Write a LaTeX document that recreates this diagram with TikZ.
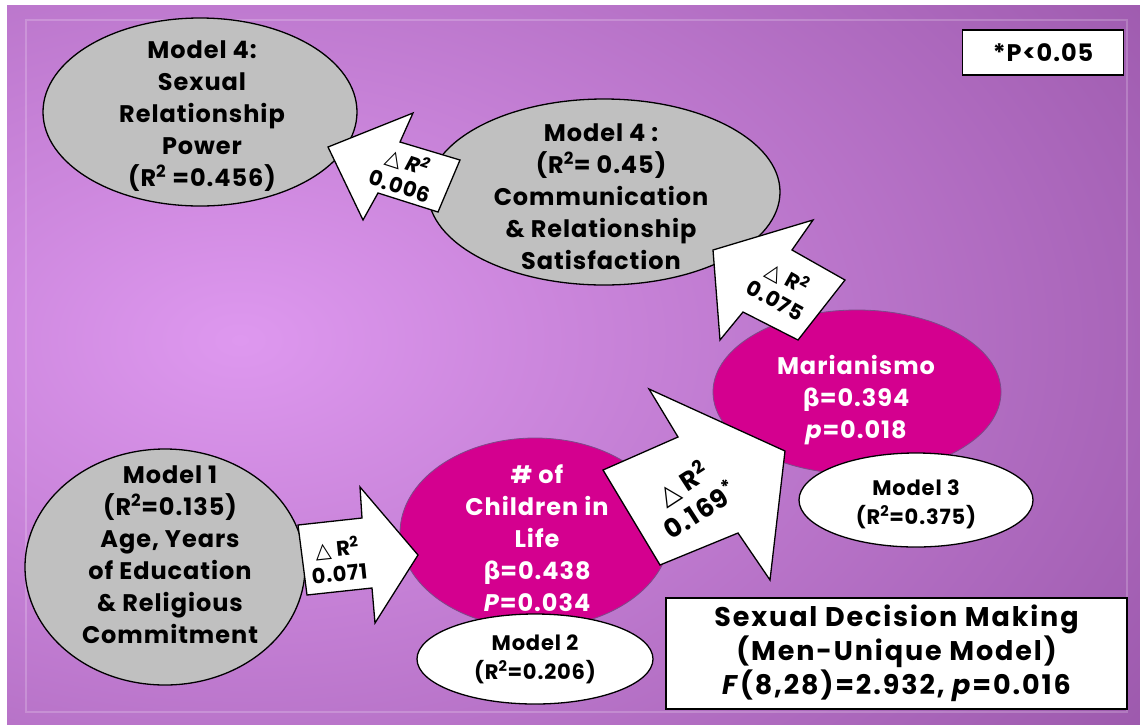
\documentclass[tikz,border=0pt]{standalone}
\usepackage{fontspec}
\setmainfont{Poppins}[LetterSpace=4]
\newfontfamily\symf{DejaVu Sans}
\usetikzlibrary{shapes.geometric}
\definecolor{bglight}{HTML}{DE98EF}
\definecolor{bgdark}{HTML}{9350A3}
\definecolor{grayc}{HTML}{C0C0C0}
\definecolor{magc}{HTML}{D4008F}
\definecolor{magborder}{HTML}{7D4A8A}
\newcommand{\dtri}{{\symf\bfseries △}}
\newcommand{\bet}{{\symf\bfseries β}}
\newcommand{\Rsq}{R\textsuperscript{2}}
\tikzset{
  grayell/.style={ellipse, draw=black, line width=1.3pt, fill=grayc, inner sep=0pt},
  magell/.style={ellipse, draw=magborder, line width=0.8pt, fill=magc, inner sep=0pt},
  whiteell/.style={ellipse, draw=black, line width=1.3pt, fill=white, inner sep=0pt},
  bigtxt/.style={align=center, inner sep=0pt, font=\bfseries\fontsize{24}{32}\selectfont},
  smalltxt/.style={align=center, inner sep=0pt, font=\bfseries\fontsize{21}{29}\selectfont},
  arrtxt/.style={align=center, inner sep=0pt, font=\bfseries\fontsize{21}{25}\selectfont},
  blockarrow/.style={draw=black, line width=1.3pt, fill=white, line join=miter},
  whitebox/.style={draw=black, line width=1.3pt, fill=white, inner sep=0pt, align=center}
}
\begin{document}
\begin{tikzpicture}[x=1pt,y=-1pt]
\useasboundingbox (0,0) rectangle (1140,724);
% background
\fill[white] (0,0) rectangle (1140,724);
\begin{scope}
  \clip (7,5) rectangle (1140,724);
  \fill[bgdark] (0,0) rectangle (1140,724);
  \shade[inner color=bglight, outer color=bgdark] (240,340) ellipse (1250 and 800);
\end{scope}
\draw[white, opacity=0.2, line width=1.5pt] (26,20) rectangle (1127,712);

% main ellipses
\node[grayell, minimum width=314pt, minimum height=188pt] (srp) at (200,112) {};
\node[grayell, minimum width=352pt, minimum height=186pt] (comm) at (604,192) {};
\node[grayell, minimum width=280pt, minimum height=236pt] (m1) at (165,567) {};
\node[magell, minimum width=288pt, minimum height=164pt] (mar) at (857,392) {};
\node[magell, minimum width=270pt, minimum height=190pt] (child) at (535,533) {};

\node[bigtxt] (srpt) at (202,116) {Model 4:\\Sexual\\Relationship\\Power\\(\Rsq\ =0.456)};
\node[bigtxt] (commt) at (601,197) {Model 4 :\\(\Rsq= 0.45)\\Communication\\\& Relationship\\Satisfaction};
\node[bigtxt] (m1t) at (170,555) {Model 1\\(\Rsq=0.135)\\Age, Years\\of Education\\\& Religious\\Commitment};
\node[bigtxt, text=white] (mart) at (856,400) {Marianismo\\\bet=0.394\\\textit{p}=0.018};
\node[bigtxt, text=white] (childt) at (537,538) {\# of\\Children in\\Life\\\bet=0.438\\\textit{P}=0.034};

% model ellipses
\node[whiteell, minimum width=236pt, minimum height=90pt] (m2) at (535,659) {};
\node[smalltxt] (m2t) at (535,659) {Model 2\\(\Rsq=0.206)};
\node[whiteell, minimum width=234pt, minimum height=94pt] (m3) at (916,500) {};
\node[smalltxt] (m3t) at (916,504) {Model 3\\(\Rsq=0.375)};

% block arrows
\draw[blockarrow] (328,147) -- (413,113) -- (400,142) -- (460,160) -- (438,212) -- (378,193) -- (363,220) -- cycle;
\node[arrtxt, rotate=-18] (a1t) at (404,173) {\dtri\ \textit{\Rsq}\\0.006};
\draw[blockarrow] (713,250) -- (813,220) -- (792,250) -- (845,280) -- (798,340) -- (743,312) -- (720,340) -- cycle;
\node[arrtxt, rotate=-29] (a2t) at (782,288) {\dtri\ \Rsq\\0.075};
\draw[blockarrow] (418,555) -- (375,623) -- (372,588) -- (307,595) -- (298,525) -- (362,518) -- (360,487) -- cycle;
\node[arrtxt, rotate=6] (a3t) at (338,560) {\dtri\ \Rsq\\0.071};
\draw[blockarrow] (649,389) -- (785,451) -- (770,580) -- (738,533) -- (660,565) -- (603,470) -- (678,437) -- cycle;
\node[arrtxt, rotate=33, font=\bfseries\fontsize{26}{32}\selectfont] (a4t) at (691,496) {\dtri\ \Rsq\\0.169\textsuperscript{*}};

% boxes
\node[whitebox, minimum width=161pt, minimum height=45pt, font=\bfseries\fontsize{24}{24}\selectfont] (sig) at (1043,52.5) {*P<0.05};
\node[whitebox, minimum width=461pt, minimum height=111pt, font=\bfseries\fontsize{27}{34}\selectfont\addfontfeatures{LetterSpace=7}] (sdm) at (896.5,653.5) {Sexual Decision Making\\(Men-Unique Model)\\\textit{F}(8,28)=2.932, \textit{p}=0.016};
\end{tikzpicture}
\end{document}
